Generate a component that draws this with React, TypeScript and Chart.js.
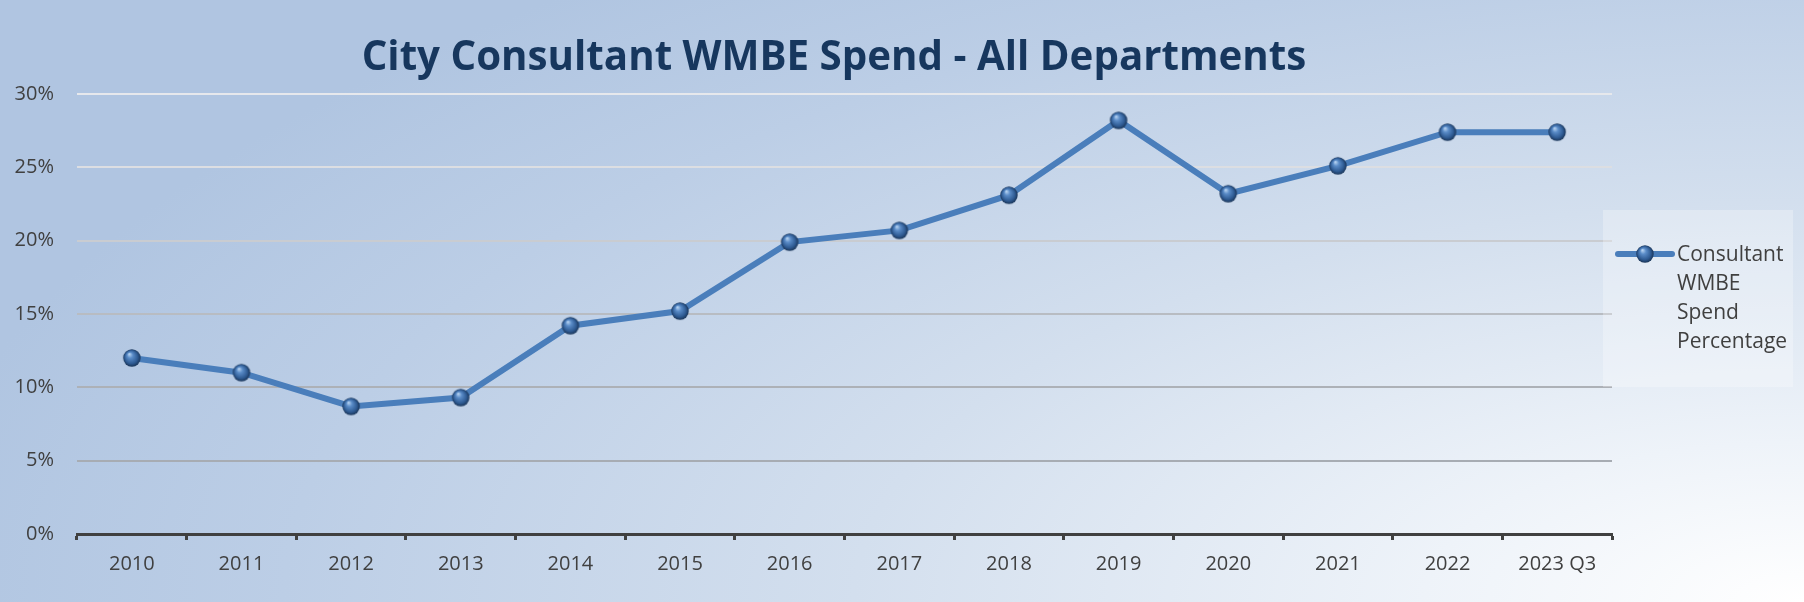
import { useEffect, useRef } from "react";
import { Chart, registerables } from "chart.js";

Chart.register(...registerables);

const titleText = "City Consultant WMBE Spend - All Departments";
const categories = ["2010", "2011", "2012", "2013", "2014", "2015", "2016", "2017", "2018", "2019", "2020", "2021", "2022", "2023 Q3"];
const spendPct = [12.0, 11.0, 8.7, 9.3, 14.2, 15.2, 19.9, 20.7, 23.1, 28.2, 23.2, 25.1, 27.4, 27.4];
const yMin = 0;
const yMax = 30;
const yStep = 5;
const seriesName = "Consultant WMBE Spend Percentage";
const legendLines = ["Consultant", "WMBE", "Spend", "Percentage"];

const W = 1804;
const H = 602;
const gridShades = ["rgba(0,0,0,0)", "#A7ACB3", "#ADB1B7", "#B8BCC2", "#C9CCD1", "#DCDEE2", "#E6E8EC"];
const FONT = "'Open Sans', 'Liberation Sans', sans-serif";

function makeSphere(r: number): HTMLCanvasElement {
  const c = document.createElement("canvas");
  const size = Math.ceil(r * 2 + 4);
  c.width = size;
  c.height = size;
  const ctx = c.getContext("2d")!;
  const cx = size / 2;
  const cy = size / 2;
  const g = ctx.createRadialGradient(cx - r * 0.3, cy - r * 0.45, r * 0.05, cx, cy, r);
  g.addColorStop(0, "#B3D0F0");
  g.addColorStop(0.3, "#5A8CC8");
  g.addColorStop(0.75, "#2E5A92");
  g.addColorStop(1, "#1A3558");
  ctx.beginPath();
  ctx.arc(cx, cy, r, 0, Math.PI * 2);
  ctx.fillStyle = g;
  ctx.fill();
  return c;
}

export default function App() {
  const ref = useRef<HTMLCanvasElement | null>(null);

  useEffect(() => {
    if (!ref.current) return;
    const sphere = makeSphere(8.7);

    const overlay = {
      id: "overlay",
      afterDraw(chart: any) {
        const ctx = chart.ctx as CanvasRenderingContext2D;
        ctx.save();
        // title
        let size = 40;
        ctx.font = `bold ${size}px ${FONT}`;
        const w = ctx.measureText(titleText).width;
        size = size * (945 / w);
        ctx.font = `bold ${size}px ${FONT}`;
        ctx.fillStyle = "#17375E";
        ctx.textAlign = "center";
        ctx.textBaseline = "alphabetic";
        ctx.fillText(titleText, 834, 70);

        // legend
        ctx.fillStyle = "rgba(255,255,255,0.28)";
        ctx.fillRect(1603, 210, 190, 177);
        ctx.strokeStyle = "#4A7EBB";
        ctx.lineWidth = 6;
        ctx.lineCap = "round";
        ctx.beginPath();
        ctx.moveTo(1618, 254);
        ctx.lineTo(1672, 254);
        ctx.stroke();
        ctx.drawImage(sphere, 1645 - sphere.width / 2, 254 - sphere.height / 2);
        ctx.fillStyle = "#404040";
        ctx.font = `21px ${FONT}`;
        ctx.textAlign = "left";
        ctx.textBaseline = "middle";
        legendLines.forEach((t, i) => {
          ctx.fillText(t, 1677, 255 + i * 29);
        });
        ctx.restore();
      },
    };

    const chart = new Chart(ref.current, {
      type: "line",
      data: {
        labels: categories,
        datasets: [
          {
            label: seriesName,
            data: spendPct,
            borderColor: "#4A7EBB",
            borderWidth: 6,
            tension: 0,
            fill: false,
            pointStyle: sphere as any,
            pointRadius: 9,
            pointHoverRadius: 9,
          },
        ],
      },
      options: {
        animation: false,
        responsive: false,
        events: [],
        layout: { padding: { top: 94, right: 192, left: 0, bottom: 0 } },
        plugins: {
          legend: { display: false },
          title: { display: false },
          tooltip: { enabled: false },
        },
        scales: {
          x: {
            offset: true,
            afterFit: (s: any) => {
              s.height = 68;
            },
            grid: {
              offset: true,
              drawOnChartArea: false,
              drawTicks: true,
              tickLength: 6,
              tickColor: "#404040",
              tickWidth: 3,
            },
            border: { display: true, color: "#404040", width: 3 },
            ticks: {
              color: "#404040",
              font: { family: FONT, size: 20 },
              padding: 12,
              maxRotation: 0,
              autoSkip: false,
            },
          },
          y: {
            min: yMin,
            max: yMax,
            afterFit: (s: any) => {
              s.width = 77;
            },
            grid: {
              drawTicks: false,
              lineWidth: 2,
              color: (c: any) => gridShades[c.index] ?? "#BBBBBB",
            },
            border: { display: false },
            ticks: {
              stepSize: yStep,
              padding: 23,
              color: "#404040",
              font: { family: FONT, size: 20 },
              callback: (v: any) => `${v}%`,
            },
          },
        },
      },
      plugins: [overlay],
    });
    return () => chart.destroy();
  }, []);

  return (
    <div
      style={{
        position: "fixed",
        left: 0,
        top: 0,
        width: W,
        height: H,
        background:
          "radial-gradient(1900px 800px at 100% 100%, #FFFFFF 0%, #EEF3F9 20%, #D3DFEE 50%, #BCCEE6 80%, #B0C5E1 100%)",
      }}
    >
      <canvas ref={ref} width={W} height={H} style={{ display: "block" }} />
    </div>
  );
}
